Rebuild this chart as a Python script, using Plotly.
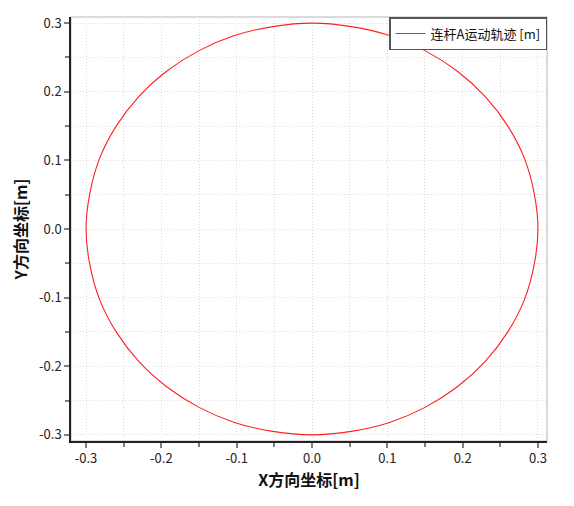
import plotly.graph_objects as go

# Trajectory points of link A, x and y in metres
x_vals = [0.300, 0.295, 0.282, 0.260, 0.230, 0.193, 0.150, 0.103, 0.052, 0.000,
          -0.052, -0.103, -0.150, -0.193, -0.230, -0.260, -0.282, -0.295, -0.300,
          -0.295, -0.282, -0.260, -0.230, -0.193, -0.150, -0.103, -0.052, 0.000,
          0.052, 0.103, 0.150, 0.193, 0.230, 0.260, 0.282, 0.295, 0.300]
y_vals = [0.000, 0.052, 0.103, 0.150, 0.193, 0.230, 0.260, 0.282, 0.295, 0.300,
          0.295, 0.282, 0.260, 0.230, 0.193, 0.150, 0.103, 0.052, 0.000,
          -0.052, -0.103, -0.150, -0.193, -0.230, -0.260, -0.282, -0.295, -0.300,
          -0.295, -0.282, -0.260, -0.230, -0.193, -0.150, -0.103, -0.052, 0.000]
tick_vals = [-0.3, -0.2, -0.1, 0.0, 0.1, 0.2, 0.3]
tick_text = ["-0.3", "-0.2", "-0.1", "0.0", "0.1", "0.2", "0.3"]
series_name = "连杆A运动轨迹 [m]"
x_title = "X方向坐标[m]"
y_title = "Y方向坐标[m]"

FONT = "Noto Sans CJK SC"
GRID = "#dcdcdc"
GRID_DASH = "1px,2px"

fig = go.Figure()
fig.add_trace(go.Scatter(
    x=x_vals, y=y_vals, mode="lines", name=series_name,
    line=dict(color="#ff2020", width=1.1, shape="spline", smoothing=1.0),
))

axis_common = dict(
    tickvals=tick_vals, ticktext=tick_text,
    showline=True, linecolor="#222222", linewidth=1.5,
    ticks="outside", ticklen=5, tickwidth=2, tickcolor="#808080",
    showgrid=True, gridcolor=GRID, griddash=GRID_DASH, gridwidth=1,
    zeroline=False, automargin=False,
    tickfont=dict(family=FONT, size=13, color="#222222"),
    minor=dict(dtick=0.05, tick0=0, ticks="outside", ticklen=4, tickwidth=2,
               tickcolor="#808080", showgrid=True, gridcolor=GRID,
               griddash=GRID_DASH, gridwidth=1),
)

fig.update_xaxes(range=[-0.320, 0.312],
                 title=dict(text="<b>" + x_title + "</b>",
                            font=dict(family=FONT, size=16, color="#111111"), standoff=3),
                 **axis_common)
fig.update_yaxes(range=[-0.309, 0.309],
                 title=dict(text="<b>" + y_title + "</b>",
                            font=dict(family=FONT, size=16, color="#111111"), standoff=7),
                 **axis_common)

fig.add_shape(type="rect", xref="paper", yref="paper", x0=0, y0=0, x1=1, y1=1,
              line=dict(color="#d0d0d0", width=1.5), layer="below")

fig.update_layout(
    width=566, height=498,
    margin=dict(l=63, r=27, t=9, b=65),
    paper_bgcolor="white", plot_bgcolor="white",
    showlegend=True,
    legend=dict(x=1, y=1, xanchor="right", yanchor="top",
                bgcolor="white", bordercolor="#555555", borderwidth=1.5,
                font=dict(family=FONT, size=13, color="#111111"),
                itemwidth=30),
    font=dict(family=FONT),
)

fig.write_html("out.html")
